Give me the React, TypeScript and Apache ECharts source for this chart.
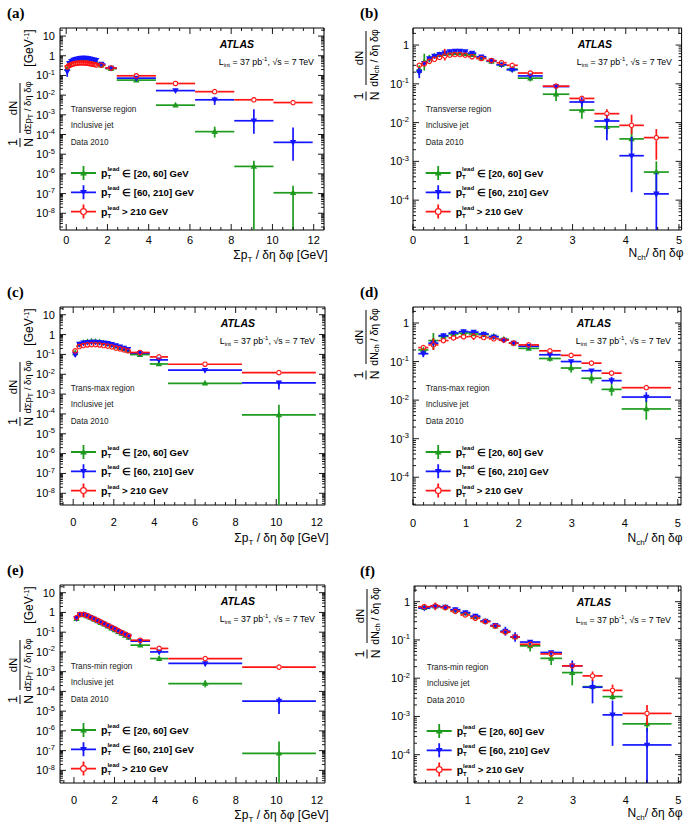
import React, { useEffect, useRef } from 'react';
import * as echarts from 'echarts';

const FONT = '"Liberation Sans", Arial, Helvetica, sans-serif';
const SERIF = '"Liberation Serif", "DejaVu Serif", serif';
const COLORS = ['#1e9b1e', '#1414ff', '#ff1414'];
const NAMES = ['pTlead ∈ [20, 60] GeV', 'pTlead ∈ [60, 210] GeV', 'pTlead > 210 GeV'];

// ---------- (a) Transverse region, sum pT density ----------
const aEdges = [0, 0.1, 0.2, 0.3, 0.4, 0.5, 0.6, 0.7, 0.8, 0.9, 1.0, 1.1, 1.2, 1.3, 1.4, 1.5, 1.9, 2.45, 4.35, 6.25, 8.15, 10.05, 11.95];
const aGreen = [0.22, 0.40, 0.48, 0.55, 0.60, 0.64, 0.66, 0.67, 0.67, 0.66, 0.63, 0.60, 0.56, 0.52, 0.48, 0.33, 0.22, 0.058, 0.0031, 1.4e-4, 2.4e-6, 1.1e-7];
const aBlue = [0.16, 0.42, 0.52, 0.60, 0.66, 0.70, 0.74, 0.76, 0.77, 0.76, 0.74, 0.71, 0.67, 0.63, 0.59, 0.38, 0.24, 0.073, 0.017, 0.0058, 5e-4, 4e-5];
const aRed = [0.30, 0.36, 0.40, 0.43, 0.46, 0.47, 0.48, 0.48, 0.48, 0.47, 0.46, 0.44, 0.42, 0.40, 0.38, 0.33, 0.24, 0.096, 0.039, 0.015, 0.0058, 0.0042];
const aGreenErr = [[18, 0.0025, 0.0038], [19, 7e-5, 2.5e-4], [20, 1e-12, 4.6e-6], [21, 1e-12, 2.5e-7]];
const aBlueErr = [[0, 0.085, 0.2], [18, 0.014, 0.021], [19, 0.0032, 0.0083], [20, 1.1e-4, 1.9e-3], [21, 4.6e-6, 2.3e-4]];
const aRedErr = [[20, 0.0048, 0.007], [21, 0.0034, 0.0052]];

// ---------- (b) Transverse region, Nch density ----------
const bEdges = [0.07, 0.165, 0.26, 0.355, 0.45, 0.55, 0.645, 0.74, 0.835, 0.93, 1.03, 1.19, 1.38, 1.57, 1.76, 1.97, 2.44, 2.94, 3.41, 3.88, 4.34, 4.81];
const bGreen = [0.23, 0.37, 0.46, 0.52, 0.56, 0.60, 0.62, 0.63, 0.62, 0.60, 0.56, 0.46, 0.38, 0.31, 0.24, 0.14, 0.054, 0.021, 0.0078, 0.0038, 5.3e-4];
const bBlue = [0.20, 0.34, 0.45, 0.52, 0.58, 0.63, 0.68, 0.70, 0.70, 0.68, 0.62, 0.50, 0.39, 0.31, 0.23, 0.16, 0.085, 0.034, 0.011, 0.0014, 1.45e-4];
const bRed = [0.30, 0.33, 0.38, 0.43, 0.48, 0.52, 0.55, 0.57, 0.57, 0.55, 0.50, 0.45, 0.40, 0.35, 0.30, 0.19, 0.087, 0.042, 0.017, 0.0085, 0.0041];
const bGreenErr = [[0, 0.17, 0.3], [1, 0.22, 0.6], [2, 0.36, 0.56], [15, 0.115, 0.17], [16, 0.036, 0.075], [17, 0.0126, 0.035], [18, 0.005, 0.012], [19, 0.0019, 0.0075], [20, 1.2e-4, 1.0e-3]];
const bBlueErr = [[0, 0.14, 0.26], [17, 0.025, 0.045], [18, 0.0035, 0.016], [19, 1.6e-4, 0.0043], [20, 1e-12, 5e-4]];
const bRedErr = [[5, 0.4, 0.8], [18, 0.013, 0.022], [19, 0.005, 0.016], [20, 0.0011, 0.0068]];

// ---------- (c) Trans-max region, sum pT density ----------
const cEdges = [0, 0.2, 0.4, 0.6, 0.8, 1.0, 1.2, 1.4, 1.6, 1.8, 2.0, 2.2, 2.4, 2.6, 2.8, 3.77, 4.67, 8.31, 11.95];
const cGreen = [0.12, 0.32, 0.40, 0.44, 0.46, 0.45, 0.42, 0.38, 0.34, 0.30, 0.26, 0.22, 0.19, 0.16, 0.098, 0.033, 0.0035, 9e-5];
const cBlue = [0.10, 0.33, 0.38, 0.41, 0.42, 0.42, 0.41, 0.39, 0.36, 0.32, 0.28, 0.24, 0.21, 0.18, 0.115, 0.053, 0.016, 0.0037];
const cRed = [0.15, 0.25, 0.28, 0.30, 0.31, 0.31, 0.30, 0.28, 0.26, 0.24, 0.21, 0.19, 0.17, 0.15, 0.125, 0.075, 0.032, 0.012];
const cGreenErr = [[15, 0.027, 0.04], [17, 1e-12, 2.9e-4]];
const cBlueErr = [[0, 0.075, 0.13], [15, 0.045, 0.062], [17, 0.0017, 0.0047]];
const cRedErr = [[17, 0.0105, 0.0138]];

// ---------- (d) Trans-max region, Nch density ----------
const dEdges = [0.1, 0.29, 0.48, 0.67, 0.86, 1.05, 1.24, 1.43, 1.62, 1.81, 1.99, 2.38, 2.79, 3.18, 3.56, 3.94, 4.87];
const dGreen = [0.20, 0.35, 0.45, 0.52, 0.55, 0.52, 0.50, 0.45, 0.38, 0.30, 0.22, 0.12, 0.068, 0.037, 0.019, 0.0059];
const dBlue = [0.16, 0.30, 0.47, 0.55, 0.60, 0.58, 0.52, 0.44, 0.36, 0.30, 0.25, 0.15, 0.10, 0.058, 0.032, 0.012];
const dRed = [0.23, 0.27, 0.35, 0.41, 0.44, 0.45, 0.42, 0.39, 0.36, 0.30, 0.27, 0.19, 0.145, 0.091, 0.05, 0.021];
const dGreenErr = [[1, 0.2, 0.55], [11, 0.1, 0.145], [12, 0.052, 0.088], [13, 0.027, 0.05], [14, 0.013, 0.026], [15, 0.0031, 0.0102]];
const dBlueErr = [[0, 0.13, 0.2], [14, 0.026, 0.04], [15, 0.009, 0.016]];
const dRedErr = [[1, 0.2, 0.4], [5, 0.36, 0.55]];

// ---------- (e) Trans-min region, sum pT density ----------
const eEdges = [0.04, 0.21, 0.38, 0.55, 0.72, 0.90, 1.07, 1.24, 1.41, 1.58, 1.76, 1.93, 2.10, 2.27, 2.44, 2.62, 2.79, 3.76, 4.66, 8.31, 11.95];
const eGreen = [0.48, 0.75, 0.77, 0.66, 0.55, 0.45, 0.37, 0.30, 0.25, 0.20, 0.16, 0.13, 0.105, 0.085, 0.068, 0.054, 0.022, 0.0046, 2.5e-4, 7.3e-8];
const eBlue = [0.50, 0.78, 0.80, 0.68, 0.56, 0.46, 0.38, 0.31, 0.26, 0.21, 0.17, 0.14, 0.11, 0.092, 0.075, 0.06, 0.035, 0.010, 0.0026, 3.2e-5];
const eRed = [0.55, 0.80, 0.80, 0.70, 0.58, 0.48, 0.40, 0.33, 0.27, 0.22, 0.18, 0.15, 0.12, 0.098, 0.08, 0.066, 0.039, 0.015, 0.0046, 0.0017];
const eGreenErr = [[17, 0.0036, 0.006], [18, 1.6e-4, 3.6e-4], [19, 1e-12, 2.9e-7]];
const eBlueErr = [[18, 0.0019, 0.0035], [19, 7.2e-6, 5.1e-5]];
const eRedErr = [[19, 0.0012, 0.0023]];

// ---------- (f) Trans-min region, Nch density ----------
const fEdges = [0.06, 0.29, 0.48, 0.67, 0.86, 1.05, 1.24, 1.43, 1.62, 1.81, 1.99, 2.38, 2.79, 3.18, 3.56, 3.94, 4.87];
const fGreen = [0.70, 0.76, 0.72, 0.60, 0.50, 0.40, 0.31, 0.23, 0.165, 0.12, 0.07, 0.033, 0.014, 0.006, 0.0033, 6.4e-4];
const fBlue = [0.68, 0.74, 0.72, 0.62, 0.52, 0.42, 0.31, 0.24, 0.17, 0.12, 0.088, 0.047, 0.021, 0.0058, 0.0011, 1.8e-4];
const fRed = [0.74, 0.78, 0.70, 0.56, 0.45, 0.37, 0.30, 0.23, 0.16, 0.12, 0.077, 0.043, 0.021, 0.0115, 0.0048, 0.0012];
const fGreenErr = [[10, 0.05, 0.09], [11, 0.022, 0.042], [12, 0.0065, 0.022], [14, 0.0027, 0.004], [15, 4e-4, 9e-4]];
const fBlueErr = [[8, 0.13, 0.22], [9, 0.09, 0.16], [12, 0.015, 0.029], [13, 0.0022, 0.009], [14, 1.7e-4, 2.6e-3], [15, 1e-12, 5e-4]];
const fRedErr = [[1, 0.6, 0.95], [13, 0.0085, 0.015], [14, 0.0036, 0.0068], [15, 6e-4, 0.002]];

// ---------- panel configuration (layout / axes) ----------
type Panel = {
  tag: string; region: string; kind: 'pt' | 'nch';
  edges: number[]; vals: number[][]; errs: number[][][];
  x: [number, number]; y: [number, number]; // y in log10 units
  rect: [number, number, number, number];
  labelMargin: number; titleDy: number; hideZero: boolean;
};

const PANELS: Panel[] = [
  { tag: '(a)', region: 'Transverse region', kind: 'pt', edges: aEdges, vals: [aGreen, aBlue, aRed], errs: [aGreenErr, aBlueErr, aRedErr],
    x: [-0.3, 12.5], y: [-8.85, 1.41], rect: [60, 28, 264, 202], labelMargin: 4, titleDy: 25, hideZero: false },
  { tag: '(b)', region: 'Transverse region', kind: 'nch', edges: bEdges, vals: [bGreen, bBlue, bRed], errs: [bGreenErr, bBlueErr, bRedErr],
    x: [0, 5.05], y: [-4.77, 0.44], rect: [413, 28, 269, 202], labelMargin: 4, titleDy: 23, hideZero: false },
  { tag: '(c)', region: 'Trans-max region', kind: 'pt', edges: cEdges, vals: [cGreen, cBlue, cRed], errs: [cGreenErr, cBlueErr, cRedErr],
    x: [-0.65, 12.4], y: [-8.59, 1.39], rect: [60, 307, 265, 198], labelMargin: 11, titleDy: 33, hideZero: false },
  { tag: '(d)', region: 'Trans-max region', kind: 'nch', edges: dEdges, vals: [dGreen, dBlue, dRed], errs: [dGreenErr, dBlueErr, dRedErr],
    x: [0, 5.06], y: [-4.72, 0.415], rect: [413, 307, 268, 198], labelMargin: 12, titleDy: 33, hideZero: false },
  { tag: '(e)', region: 'Trans-min region', kind: 'pt', edges: eEdges, vals: [eGreen, eBlue, eRed], errs: [eGreenErr, eBlueErr, eRedErr],
    x: [-0.69, 12.4], y: [-8.64, 1.39], rect: [60, 585, 265, 198], labelMargin: 11, titleDy: 32, hideZero: false },
  { tag: '(f)', region: 'Trans-min region', kind: 'nch', edges: fEdges, vals: [fGreen, fBlue, fRed], errs: [fGreenErr, fBlueErr, fRedErr],
    x: [-0.02, 5.05], y: [-4.74, 0.41], rect: [414, 586, 267, 197], labelMargin: 11, titleDy: 30, hideZero: true },
];

const LINE_W = 1.7;
const R_CIRC = 2.7;

const ICONS = [
  'path://M0 6.1H25V7.9H0Z M11.6 0H13.4V14H11.6Z M12.5 3.5L15.9 9.4H9.1Z',
  'path://M0 6.1H25V7.9H0Z M11.6 0H13.4V14H11.6Z M9.1 4.6H15.9L12.5 10.5Z',
  'path://M0 6.1H9V7.9H0Z M16 6.1H25V7.9H16Z M11.6 0H13.4V3.5H11.6Z M11.6 10.5H13.4V14H11.6Z M9 7A3.5 3.5 0 1 1 16 7A3.5 3.5 0 1 1 9 7Z M10.2 7A2.3 2.3 0 1 0 14.8 7A2.3 2.3 0 1 0 10.2 7Z',
];

function buildItems(edges: number[], vals: number[], errs: number[][]) {
  const em = new Map<number, number[]>();
  errs.forEach((e) => em.set(e[0], [e[1], e[2]]));
  return vals.map((v, i) => {
    const lo = edges[i];
    const hi = edges[i + 1];
    const ly = Math.log10(v);
    const e = em.get(i);
    return [(lo + hi) / 2, lo, hi, ly, e ? Math.log10(e[0]) : ly, e ? Math.log10(e[1]) : ly];
  });
}

function makeDataRender(k: number) {
  const color = COLORS[k];
  return (params: any, api: any) => {
    const cs = params.coordSys;
    const top = cs.y, bot = cs.y + cs.height, left = cs.x, right = cs.x + cs.width;
    const cy = (v: number) => Math.max(top, Math.min(bot, v));
    const cx = (v: number) => Math.max(left, Math.min(right, v));
    const xc = api.value(0), x0 = api.value(1), x1 = api.value(2);
    const yv = api.value(3), ylo = api.value(4), yhi = api.value(5);
    const c = api.coord([xc, yv]);
    const pl = api.coord([x0, yv]);
    const pr = api.coord([x1, yv]);
    const pLo = api.coord([xc, ylo]);
    const pHi = api.coord([xc, yhi]);
    const gap = k === 2 ? R_CIRC : 0;
    const ls = { stroke: color, lineWidth: LINE_W };
    const kids: any[] = [];
    const seg = (a: number, b: number, c2: number, d: number) =>
      kids.push({ type: 'line', shape: { x1: a, y1: b, x2: c2, y2: d }, style: ls });
    seg(cx(pl[0]), c[1], cx(c[0] - gap), c[1]);
    seg(cx(c[0] + gap), c[1], cx(pr[0]), c[1]);
    if (yhi > yv && cy(pHi[1]) < c[1] - gap) seg(c[0], cy(pHi[1]), c[0], c[1] - gap);
    if (ylo < yv && cy(pLo[1]) > c[1] + gap) seg(c[0], c[1] + gap, c[0], cy(pLo[1]));
    if (k === 0) {
      kids.push({ type: 'polygon', shape: { points: [[c[0], c[1] - 3.5], [c[0] + 3.2, c[1] + 2.3], [c[0] - 3.2, c[1] + 2.3]] }, style: { fill: color } });
    } else if (k === 1) {
      kids.push({ type: 'polygon', shape: { points: [[c[0] - 3.2, c[1] - 2.3], [c[0] + 3.2, c[1] - 2.3], [c[0], c[1] + 3.5]] }, style: { fill: color } });
    } else {
      kids.push({ type: 'circle', shape: { cx: c[0], cy: c[1], r: R_CIRC - 0.5 }, style: { fill: 'rgba(255,255,255,0)', stroke: color, lineWidth: 1.2 } });
    }
    return { type: 'group', children: kids };
  };
}

function makeTickRender(p: Panel) {
  const step = p.kind === 'pt' ? 2 : 1;
  const div = p.kind === 'pt' ? 4 : 5;
  return (params: any, api: any) => {
    const cs = params.coordSys;
    const L = cs.x, R = cs.x + cs.width, T = cs.y, B = cs.y + cs.height;
    const kids: any[] = [];
    const st = { stroke: '#000', lineWidth: 0.9 };
    const add = (a: number, b: number, c: number, d: number) =>
      kids.push({ type: 'line', shape: { x1: a, y1: b, x2: c, y2: d }, style: st });
    const minor = step / div;
    const k0 = Math.ceil(p.x[0] / minor - 1e-9);
    const k1 = Math.floor(p.x[1] / minor + 1e-9);
    for (let k = k0; k <= k1; k++) {
      const v = k * minor;
      const len = Math.abs(k % div) === 0 ? 6 : 3;
      const px = api.coord([v, p.y[0]])[0];
      add(px, B, px, B - len);
      add(px, T, px, T + len);
    }
    for (let n = Math.floor(p.y[0]); n <= Math.ceil(p.y[1]); n++) {
      for (let m = 1; m <= 9; m++) {
        const v = n + Math.log10(m);
        if (v <= p.y[0] || v >= p.y[1]) continue;
        const len = m === 1 ? 6 : 3;
        const py = api.coord([p.x[0], v])[1];
        add(L, py, L + len, py);
        add(R, py, R - len, py);
      }
    }
    return { type: 'group', children: kids };
  };
}

const txt = (text: string, x: number, y: number, style: any = {}) => ({
  type: 'text', x, y, silent: true, z: 50,
  style: { text, fill: '#000', fontFamily: FONT, fontSize: 11, align: 'left', verticalAlign: 'middle', ...style },
});

function frac(cx: number, cy: number, num: string, den: string, w: number, fsN: number, fsD: number) {
  const rich = {
    sub: { fontSize: fsD * 0.72, lineHeight: 7, verticalAlign: 'bottom', fontFamily: FONT, fill: '#000' },
  };
  return {
    type: 'group', x: cx, y: cy, rotation: Math.PI / 2, silent: true, z: 50,
    children: [
      { type: 'text', x: 0, y: -1, style: { text: num, align: 'center', verticalAlign: 'bottom', fontSize: fsN, fontFamily: FONT, fill: '#000' } },
      { type: 'line', shape: { x1: -w / 2, y1: 0, x2: w / 2, y2: 0 }, style: { stroke: '#000', lineWidth: 1 } },
      { type: 'text', x: 0, y: 1, style: { text: den, align: 'center', verticalAlign: 'top', fontSize: fsD, lineHeight: fsD + 3, fontFamily: FONT, fill: '#000', rich } },
    ],
  };
}

function panelGraphics(p: Panel) {
  const [L, T, W, H] = p.rect;
  const R = L + W, B = T + H;
  const pt = p.kind === 'pt';
  const tx = L + (pt ? 10.7 : 12.7);
  const els: any[] = [];
  els.push(txt(p.tag, pt ? 7 : 360, T - 15.5, { fontFamily: SERIF, fontSize: 15, fontWeight: 'bold' }));
  els.push(txt('ATLAS', R - 70, T + 15.5, { fontWeight: 'bold', fontStyle: 'italic', fontSize: 10.5, align: 'right' }));
  els.push(txt('L{sub|int} = 37 pb{sup|-1}, √s = 7 TeV', R - 10, T + 33.5, {
    fontSize: 8.8, lineHeight: 12, align: 'right',
    rich: {
      sub: { fontSize: 6, lineHeight: 6, verticalAlign: 'bottom', fontFamily: FONT, fill: '#000' },
      sup: { fontSize: 6, lineHeight: 6, verticalAlign: 'top', fontFamily: FONT, fill: '#000' },
    },
  }));
  const regionStyle = { fontSize: 8.2, fill: '#222' };
  els.push(txt(p.region, tx, T + 81, regionStyle));
  els.push(txt('Inclusive jet', tx, T + 97.5, regionStyle));
  els.push(txt('Data 2010', tx, T + 114, regionStyle));
  // x-axis title
  els.push(txt(pt ? 'Σp{sub|T} / δη δφ [GeV]' : 'N{sub|ch}/ δη δφ', pt ? R + 3.5 : R + 1.5, B + p.titleDy, {
    fontSize: 12, lineHeight: 16, align: 'right',
    rich: { sub: { fontSize: 8, lineHeight: 8, verticalAlign: 'bottom', fontFamily: FONT, fill: '#000' } },
  }));
  // y-axis title (rotated fractions)
  if (pt) {
    const bx = L - 40;
    els.push(frac(bx, T + 114.5, '1', 'N', 9, 12.5, 12));
    els.push(frac(bx, T + 80, 'dN', 'dΣp{sub|T} / δη δφ', 50, 11.5, 9.5));
    els.push({
      type: 'group', x: bx + 9, y: T + 20, rotation: Math.PI / 2, silent: true, z: 50,
      children: [{ type: 'text', x: 0, y: 0, style: {
        text: '[GeV{sup|-1}]', align: 'center', verticalAlign: 'middle', fontSize: 12, lineHeight: 14, fontFamily: FONT, fill: '#000',
        rich: { sup: { fontSize: 7.5, lineHeight: 8, verticalAlign: 'top', fontFamily: FONT, fill: '#000' } },
      } }],
    });
  } else {
    const bx = L - 47;
    els.push(frac(bx, T + 68, '1', 'N', 9, 12.5, 12));
    els.push(frac(bx, T + 30, 'dN', 'dN{sub|ch} / δη δφ', 54, 11.5, 10.5));
  }
  return els;
}

const yLabel = (v: number) => {
  const n = Math.round(v);
  if (Math.abs(v - n) > 1e-6) return '';
  if (n === 0) return '1';
  if (n === 1) return '10';
  return `{b|10}{s|${n}}`;
};

const legendRich = {
  p: { fontSize: 10.5, fontWeight: 'bold', lineHeight: 14, fontFamily: FONT, color: '#000' },
  t: { fontSize: 6, fontWeight: 'bold', lineHeight: 6, verticalAlign: 'bottom', width: 0, fontFamily: FONT, color: '#000' },
  l: { fontSize: 6, fontWeight: 'bold', lineHeight: 7, verticalAlign: 'top', fontFamily: FONT, color: '#000' },
  b: { fontSize: 9.6, fontWeight: 'bold', lineHeight: 14, fontFamily: FONT, color: '#000' },
};

function buildOption() {
  const grid: any[] = [];
  const xAxis: any[] = [];
  const yAxis: any[] = [];
  const series: any[] = [];
  const legend: any[] = [];
  const graphic: any[] = [];

  PANELS.forEach((p, i) => {
    const [L, T, W, H] = p.rect;
    const step = p.kind === 'pt' ? 2 : 1;
    grid.push({ left: L, top: T, width: W, height: H, show: true, borderColor: '#000', borderWidth: 1, backgroundColor: 'rgba(0,0,0,0)' });
    xAxis.push({
      type: 'value', gridIndex: i, min: p.x[0], max: p.x[1], minInterval: step, maxInterval: step,
      axisLine: { show: false }, axisTick: { show: false }, splitLine: { show: false },
      axisLabel: {
        margin: p.labelMargin, color: '#000', fontSize: 11, fontFamily: FONT,
        formatter: (v: number) => {
          const r = v / step;
          if (Math.abs(r - Math.round(r)) > 1e-6) return '';
          const n = Math.round(v);
          if (p.hideZero && n === 0) return '';
          return String(n);
        },
      },
    });
    yAxis.push({
      type: 'value', gridIndex: i, min: p.y[0], max: p.y[1], minInterval: 1, maxInterval: 1,
      axisLine: { show: false }, axisTick: { show: false }, splitLine: { show: false },
      axisLabel: {
        margin: p.kind === 'pt' ? 5 : 4, color: '#000', fontSize: 11, fontFamily: FONT, formatter: yLabel,
        rich: {
          b: { fontSize: 11, lineHeight: 14, fontFamily: FONT, color: '#000' },
          s: { fontSize: 7.5, lineHeight: 8, verticalAlign: 'top', fontFamily: FONT, color: '#000' },
        },
      },
    });
    series.push({
      type: 'custom', name: 'axis-ticks-' + i, xAxisIndex: i, yAxisIndex: i, silent: true, z: 10, clip: false,
      data: [[p.x[0], p.y[0]]], encode: { x: 0, y: 1 }, renderItem: makeTickRender(p),
    });
    [0, 1, 2].forEach((k) => {
      series.push({
        type: 'custom', name: NAMES[k], xAxisIndex: i, yAxisIndex: i, silent: true, z: 3 + k, clip: true,
        itemStyle: { color: COLORS[k] },
        encode: { x: 0, y: 3 },
        data: buildItems(p.edges, p.vals[k], p.errs[k]),
        renderItem: makeDataRender(k),
      });
    });
    legend.push({
      left: L + (p.kind === 'pt' ? 11 : 12.7), top: T + 138, orient: 'vertical', padding: 0,
      itemWidth: 25, itemHeight: 14, itemGap: 5.3, selectedMode: false,
      itemStyle: { borderWidth: 0 },
      data: NAMES.map((n, k) => ({ name: n, icon: ICONS[k], itemStyle: { color: COLORS[k], borderWidth: 0 } })),
      formatter: (name: string) => `{p|p}{t|T}{l|lead}{b|${name.replace('pTlead', '')}}`,
      textStyle: { fontFamily: FONT, fontSize: 9.6, fontWeight: 'bold', color: '#000', rich: legendRich },
    });
    graphic.push(...panelGraphics(p));
  });

  return {
    animation: false,
    backgroundColor: '#fff',
    textStyle: { fontFamily: FONT },
    grid, xAxis, yAxis, series, legend,
    graphic: { elements: graphic },
  };
}

export default function App() {
  const ref = useRef<HTMLDivElement>(null);
  useEffect(() => {
    if (!ref.current) return;
    const chart = echarts.init(ref.current, null, { renderer: 'svg' });
    chart.setOption(buildOption() as any);
    return () => chart.dispose();
  }, []);
  return <div ref={ref} style={{ position: 'absolute', left: 0, top: 0, width: 685, height: 824, background: '#fff' }} />;
}
